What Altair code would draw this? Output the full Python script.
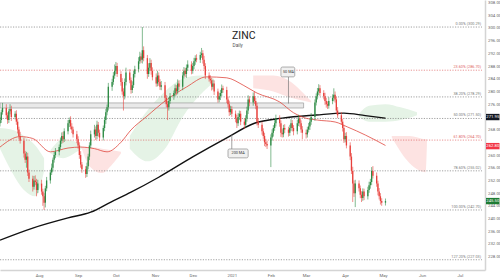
import altair as alt
import pandas as pd

# ---------------- data ----------------
first_open = 270.0
c_jul = [271.0, 273.5, 274.8, 272.5, 271.0, 273.8, 274.5, 272.0, 273.0, 270.5, 268.0, 266.0, 264.5, 260.5, 258.5, 259.5, 254.5, 252.5, 250.0, 252.0, 251.5, 249.0, 251.0]
u_jul = [1.0, 0.8, 1.6, 1.2, 0.9, 0.7, 1.5, 1.0, 0.8, 1.1, 1.0, 0.9, 1.3, 1.0, 0.8, 1.5, 1.2, 0.9, 1.0, 1.4, 1.6, 1.0, 1.2]
l_jul = [1.0, 0.9, 0.8, 1.1, 1.2, 0.9, 1.0, 1.3, 0.8, 1.0, 1.2, 1.0, 0.9, 1.3, 1.0, 2.5, 1.1, 1.0, 1.5, 0.9, 1.0, 2.0, 1.0]
c_aug = [248.5, 247.0, 245.0, 249.5, 252.0, 254.5, 256.0, 258.5, 260.0, 261.0, 262.5, 264.5, 266.0, 265.0, 267.5, 270.0, 271.0, 269.0, 268.0, 266.5, 265.0]
u_aug = [1.2, 0.9, 1.0, 0.8, 1.1, 0.9, 1.3, 0.7, 1.0, 1.2, 0.8, 1.0, 1.1, 1.3, 0.9, 1.0, 0.8, 1.2, 1.0, 0.9, 1.1]
l_aug = [1.0, 3.0, 2.3, 1.5, 0.9, 1.0, 0.8, 1.2, 0.9, 1.0, 1.1, 0.8, 1.0, 1.2, 0.9, 1.0, 1.2, 0.9, 1.1, 1.0, 1.3]
c_sep = [263.0, 260.0, 257.0, 255.5, 254.0, 256.5, 259.5, 263.0, 266.5, 268.0, 266.0, 269.5, 267.0, 265.5, 268.5, 271.0, 273.5, 275.0, 281.5, 283.0, 285.0, 286.5]
u_sep = [0.9, 1.0, 1.2, 0.8, 1.0, 1.1, 0.9, 1.0, 1.2, 1.5, 1.0, 1.3, 0.9, 1.0, 0.8, 1.1, 1.0, 0.9, 1.2, 1.0, 1.1, 2.0]
l_sep = [1.0, 1.2, 1.0, 1.1, 1.2, 0.9, 1.0, 1.1, 0.8, 1.0, 1.3, 1.0, 1.2, 1.1, 0.9, 1.0, 1.2, 1.0, 1.0, 1.3, 0.9, 1.0]
c_oct = [288.0, 285.5, 283.0, 280.0, 278.5, 283.0, 286.0, 283.5, 280.5, 282.0, 285.5, 287.0, 289.5, 291.0, 290.0, 293.0, 290.5, 285.5, 287.5, 289.0, 286.5, 284.5]
u_oct = [1.3, 1.0, 0.9, 1.2, 1.0, 1.1, 1.5, 1.0, 0.9, 1.2, 1.0, 1.1, 1.3, 1.5, 1.0, 7.3, 1.2, 1.0, 1.4, 1.5, 1.0, 1.1]
l_oct = [1.0, 0.9, 1.2, 1.0, 4.5, 1.0, 1.1, 0.9, 1.2, 1.0, 0.9, 1.1, 1.0, 0.8, 1.0, 1.2, 1.0, 1.5, 0.9, 1.0, 1.2, 1.0]
c_nov = [282.5, 285.0, 283.0, 281.5, 282.0, 278.0, 276.0, 275.0, 277.0, 278.5, 279.5, 281.0, 280.0, 282.5, 281.5, 285.0, 286.5, 285.5, 287.5, 288.5, 286.5]
u_nov = [1.2, 1.5, 1.0, 0.9, 1.3, 1.0, 0.9, 1.1, 1.2, 1.0, 0.8, 1.2, 1.0, 1.3, 1.0, 1.1, 1.2, 0.9, 1.0, 1.3, 1.0]
l_nov = [1.0, 0.9, 1.2, 1.0, 1.1, 1.3, 1.0, 4.0, 1.0, 0.9, 1.1, 1.0, 1.2, 0.9, 1.0, 1.1, 0.9, 1.0, 1.2, 1.0, 1.1]
c_dec = [288.0, 289.5, 290.5, 290.0, 291.5, 292.0, 290.0, 288.0, 285.0, 284.0, 283.5, 281.5, 282.5, 280.0, 277.5, 278.5, 279.5, 281.0, 280.5, 277.5, 276.0, 273.5, 274.5]
u_dec = [1.0, 1.1, 0.9, 1.2, 1.0, 1.7, 1.0, 1.2, 0.9, 1.0, 1.1, 0.8, 1.2, 1.0, 0.9, 1.1, 1.0, 1.2, 0.8, 1.0, 0.9, 1.1, 1.0]
l_dec = [0.9, 1.0, 1.1, 0.8, 1.0, 0.9, 1.2, 1.0, 1.1, 0.9, 1.0, 1.2, 0.9, 1.1, 1.0, 0.9, 1.2, 1.0, 0.9, 1.1, 1.0, 1.2, 0.9]
c_jan = [273.0, 271.5, 270.0, 272.0, 273.0, 270.5, 269.5, 271.5, 274.0, 277.5, 276.5, 278.5, 277.0, 275.5, 270.5, 269.5, 267.5, 266.0, 264.0, 263.5, 263.0]
u_jan = [0.9, 1.0, 1.1, 1.2, 1.0, 0.9, 1.1, 1.0, 1.2, 1.3, 1.0, 1.2, 1.5, 1.0, 0.9, 1.1, 1.0, 0.9, 1.0, 1.1, 1.0]
l_jan = [1.0, 1.2, 1.5, 0.9, 1.0, 1.1, 1.3, 0.9, 1.0, 1.1, 1.2, 1.0, 0.9, 1.1, 1.2, 1.0, 1.1, 0.9, 1.2, 1.0, 1.1]
c_feb = [265.5, 267.0, 268.5, 270.0, 271.5, 270.0, 267.0, 266.5, 268.5, 268.0, 267.0, 268.5, 270.0, 268.5, 267.5, 270.0, 271.5, 270.0, 268.0, 267.0]
u_feb = [1.0, 1.1, 0.9, 1.0, 1.2, 1.0, 0.9, 1.1, 1.0, 1.2, 0.9, 1.0, 1.3, 1.0, 0.9, 1.1, 1.2, 1.0, 0.9, 1.1]
l_feb = [6.8, 1.0, 1.2, 0.9, 1.0, 1.1, 1.3, 1.0, 0.9, 1.1, 1.2, 1.0, 0.9, 1.1, 1.3, 1.0, 0.9, 1.1, 1.0, 2.0]
c_mar = [266.5, 268.0, 269.0, 270.5, 272.0, 276.5, 278.5, 280.0, 281.0, 279.5, 278.5, 277.0, 276.0, 275.5, 277.0, 278.0, 279.0, 277.5, 274.0, 272.5, 270.5, 268.5, 265.0]
u_mar = [1.0, 0.9, 1.1, 1.0, 1.2, 1.0, 0.9, 1.1, 1.3, 1.0, 0.9, 1.1, 1.0, 0.9, 1.2, 1.1, 2.0, 1.0, 0.9, 1.1, 1.0, 0.9, 1.0]
l_mar = [1.3, 1.0, 0.9, 1.1, 1.0, 1.2, 0.9, 1.0, 1.1, 0.9, 1.0, 1.2, 1.1, 1.0, 0.9, 1.0, 1.1, 1.0, 1.2, 0.9, 1.0, 1.1, 1.2]
c_apr = [266.0, 263.0, 259.5, 255.0, 251.0, 248.0, 251.0, 249.5, 247.5, 246.5, 248.5, 247.0, 249.0, 250.5, 251.5, 255.0, 253.5, 251.0, 248.5, 247.0, 245.5, 245.0, 245.5]
u_apr = [1.0, 1.2, 1.0, 1.1, 1.3, 1.0, 1.2, 1.0, 0.9, 1.1, 1.0, 0.9, 1.0, 1.1, 1.0, 1.2, 1.5, 1.0, 0.9, 1.1, 1.0, 0.9, 0.8]
l_apr = [1.0, 0.9, 1.1, 1.0, 5.8, 1.2, 4.4, 1.0, 1.1, 1.3, 0.9, 1.2, 1.0, 0.9, 1.1, 1.0, 0.9, 1.0, 1.2, 1.0, 1.1, 1.0, 0.9]

closes = c_jul + c_aug + c_sep + c_oct + c_nov + c_dec + c_jan + c_feb + c_mar + c_apr
upw = u_jul + u_aug + u_sep + u_oct + u_nov + u_dec + u_jan + u_feb + u_mar + u_apr
loww = l_jul + l_aug + l_sep + l_oct + l_nov + l_dec + l_jan + l_feb + l_mar + l_apr
n = min(len(closes), len(upw), len(loww))
dates = pd.bdate_range("2020-07-01", periods=n).strftime("%Y-%m-%d")
opens = [first_open] + closes[:n - 1]
rows = []
for i in range(n):
    o, c = opens[i], closes[i]
    rows.append({"date": dates[i], "open": o, "close": c,
                 "high": max(o, c) + upw[i], "low": min(o, c) - loww[i],
                 "col": "#2e8b45" if c >= o else "#e8413c"})
candles = pd.DataFrame(rows)

ma50_dates = ["2020-07-01", "2020-07-17", "2020-07-27", "2020-08-10", "2020-08-24", "2020-09-03", "2020-09-14", "2020-09-24", "2020-10-05", "2020-10-13", "2020-10-25", "2020-11-10", "2020-11-26", "2020-12-12", "2020-12-28", "2021-01-10", "2021-01-21", "2021-02-08", "2021-02-19", "2021-02-27", "2021-03-10", "2021-03-24", "2021-04-03", "2021-04-17", "2021-05-03"]
ma50_vals = [262.5, 265.8, 265.2, 261.0, 262.2, 262.5, 262.0, 261.0, 264.0, 267.9, 272.0, 277.3, 281.4, 284.6, 284.3, 282.0, 279.5, 276.7, 273.3, 271.8, 271.0, 270.4, 268.8, 266.3, 263.0]
ma200_dates = ["2020-07-01", "2020-07-27", "2020-08-24", "2020-09-11", "2020-09-27", "2020-10-13", "2020-11-04", "2020-12-01", "2020-12-28", "2021-01-19", "2021-02-10", "2021-03-09", "2021-03-31", "2021-04-17", "2021-05-03"]
ma200_vals = [233.2, 237.0, 240.2, 242.0, 245.2, 248.3, 253.0, 259.4, 265.4, 270.0, 271.6, 272.6, 273.2, 272.4, 271.6]

cloud_id = ["g1"] * 5 + ["g2"] * 4 + ["r1"] * 5 + ["g3"] * 6 + ["r2"] * 5 + ["g4"] * 5 + ["r3"] * 4
cloud_date = ["2020-07-01", "2020-07-10", "2020-07-20", "2020-07-29", "2020-08-05",
              "2020-08-10", "2020-08-20", "2020-08-31", "2020-09-04",
              "2020-09-04", "2020-09-10", "2020-09-20", "2020-09-28", "2020-10-05",
              "2020-10-12", "2020-10-26", "2020-11-09", "2020-11-23", "2020-12-07", "2020-12-18",
              "2021-01-18", "2021-02-03", "2021-02-17", "2021-02-28", "2021-03-05",
              "2021-04-12", "2021-04-20", "2021-05-03", "2021-05-15", "2021-05-28",
              "2021-05-08", "2021-05-22", "2021-06-04", "2021-06-05"]
cloud_top = [268.5, 268, 266, 263, 259, 261.5, 265, 264, 262.5, 262.5, 262.5, 262, 261.5, 261,
             266, 274, 280, 284, 285, 284, 285, 285, 283, 279, 277,
             273, 275.5, 276, 275, 273.5, 266, 266, 265, 265]
cloud_bot = [262, 255, 249, 247, 255, 260.5, 259, 261, 262, 262, 256.5, 254.3, 257, 260.5,
             262, 258, 262, 272, 279, 283, 281, 280, 278, 277, 276.5,
             272, 270.5, 270.5, 271, 272.5, 265.5, 257.5, 254.6, 265]
cloud_fill = {"g": "#e5f3e6", "r": "#fde3e2"}

zone_start, zone_end, zone_top, zone_bot = "2020-07-01", "2021-02-27", 276.4, 274.8

fib_pct = ["0.00%", "23.60%", "38.20%", "50.00%", "61.80%", "78.60%", "100.00%", "127.20%"]
fib_val = [300.29, 286.70, 278.29, 271.50, 264.70, 255.02, 242.70, 227.03]
fib_red = [False, True, False, False, True, False, False, False]

tag_text = ["271.95", "262.80", "245.50"]
tag_val = [271.95, 262.80, 245.50]
tag_col = ["#131722", "#f23645", "#1e7b34"]

callout_text = ["50 MA", "200 MA"]
callout_x1 = ["2021-02-09", "2020-12-29"]
callout_x2 = ["2021-02-20", "2021-01-14"]
callout_xc = ["2021-02-15", "2021-01-06"]
callout_top = [287.7, 261.9]
callout_bot = [284.6, 259.1]
callout_yc = [286.15, 260.5]
pointer_x = ["2021-02-15", "2021-01-01"]
pointer_y1 = [284.6, 261.9]
pointer_y2 = [276.2, 266.5]

month_ticks = [(2020, 8), (2020, 9), (2020, 10), (2020, 11), (2020, 12), (2021, 1), (2021, 2),
               (2021, 3), (2021, 4), (2021, 5), (2021, 6), (2021, 7)]
# 272 and 264 sit under the price tags, as in the reference
price_ticks = [228, 232, 236, 240, 244, 248, 252, 256, 260, 268, 276, 280, 284, 288, 292, 296, 300, 304, 308]

# ---------------- chart ----------------
FONT = "Roboto"
xscale = alt.Scale(type="utc", domain=[alt.DateTime(year=2020, month=7, date=1, utc=True),
                                        alt.DateTime(year=2021, month=7, date=21, utc=True)])
yscale = alt.Scale(domain=[223.8, 308.8], zero=False, nice=False)
xaxis = alt.Axis(values=[alt.DateTime(year=y, month=m, date=1, utc=True) for y, m in month_ticks],
                 labelExpr="utcFormat(datum.value, '%m') == '01' ? utcFormat(datum.value, '%Y') : utcFormat(datum.value, '%b')",
                 grid=False, ticks=False, domainColor="#d4d4d4", domainWidth=1.5,
                 labelFontSize=4.3, labelColor="#666666", labelPadding=3, labelFont=FONT,
                 labelOverlap=False, title=None)
yaxis = alt.Axis(orient="right", values=price_ticks, format=".2f", grid=False, ticks=False,
                 domainColor="#d4d4d4", domainWidth=1.5, labelFontSize=4.3, labelColor="#666666",
                 labelPadding=2.5, labelFont=FONT, title=None)


def X(f):
    return alt.X(f, type="temporal", scale=xscale, axis=xaxis)


def Y(f):
    return alt.Y(f, type="quantitative", scale=yscale, axis=yaxis)


clouds = pd.DataFrame({"cid": cloud_id, "date": cloud_date, "top": cloud_top, "bot": cloud_bot})
clouds["fill"] = [cloud_fill[c[0]] for c in cloud_id]
cloud_layer = alt.Chart(clouds).mark_area(opacity=1, interpolate="monotone").encode(
    x=X("date"), y=Y("top"), y2="bot", detail="cid:N", color=alt.Color("fill:N", scale=None))

zone = pd.DataFrame({"a": [zone_start], "b": [zone_end], "t": [zone_top], "u": [zone_bot]})
zone_layer = alt.Chart(zone).mark_rect(fill="#e9e9e9", stroke="#9c9c9c", strokeWidth=0.7).encode(
    x=X("a"), x2="b", y=Y("t"), y2="u")

fib = pd.DataFrame({"v": fib_val,
                    "lab": [f"{p} ({v:.2f})" for p, v in zip(fib_pct, fib_val)],
                    "col": ["#e06666" if r else "#7a7a7a" for r in fib_red]})
fib_rules = alt.Chart(fib).mark_rule(strokeDash=[1.2, 1.4], strokeWidth=0.7).encode(
    y=Y("v"), x=alt.value(0), x2=alt.value(482), color=alt.Color("col:N", scale=None))
fib_text = alt.Chart(fib).mark_text(align="right", baseline="bottom", dy=-1.2, fontSize=3.8, font=FONT).encode(
    y=Y("v"), x=alt.value(481), text="lab:N", color=alt.Color("col:N", scale=None))

ma50 = pd.DataFrame({"date": ma50_dates, "v": ma50_vals})
ma200 = pd.DataFrame({"date": ma200_dates, "v": ma200_vals})
ma50_layer = alt.Chart(ma50).mark_line(color="#e0473f", strokeWidth=0.8, interpolate="monotone").encode(
    x=X("date"), y=Y("v"))
ma200_layer = alt.Chart(ma200).mark_line(color="#111111", strokeWidth=1.4, interpolate="monotone").encode(
    x=X("date"), y=Y("v"))

wicks = alt.Chart(candles).mark_rule(strokeWidth=0.6).encode(
    x=X("date"), y=Y("low"), y2="high", color=alt.Color("col:N", scale=None))
bodies = alt.Chart(candles).mark_rule(strokeWidth=1.3).encode(
    x=X("date"), y=Y("open"), y2="close", color=alt.Color("col:N", scale=None))

call = pd.DataFrame({"t": callout_text, "x1": callout_x1, "x2": callout_x2, "xc": callout_xc,
                     "top": callout_top, "bot": callout_bot, "yc": callout_yc,
                     "px": pointer_x, "py1": pointer_y1, "py2": pointer_y2})
pointer_layer = alt.Chart(call).mark_rule(color="#7a7a7a", strokeWidth=0.7).encode(
    x=X("px"), y=Y("py1"), y2="py2")
box_layer = alt.Chart(call).mark_rect(fill="#f0f0f0", stroke="#7a7a7a", strokeWidth=0.6, cornerRadius=1.5).encode(
    x=X("x1"), x2="x2", y=Y("top"), y2="bot")
box_text = alt.Chart(call).mark_text(fontSize=3.8, color="#333333", font=FONT, baseline="middle").encode(
    x=X("xc"), y=Y("yc"), text="t:N")

tags = pd.DataFrame({"t": tag_text, "v": tag_val, "col": tag_col})
tags["hi"] = tags["v"] + 1.0
tags["lo"] = tags["v"] - 1.0
tag_rect = alt.Chart(tags).mark_rect().encode(
    x=alt.value(486), x2=alt.value(499.5), y=Y("hi"), y2="lo", color=alt.Color("col:N", scale=None))
tag_txt = alt.Chart(tags).mark_text(fontSize=4.2, color="white", font=FONT, baseline="middle").encode(
    x=alt.value(492.8), y=Y("v"), text="t:N")

title_layer = alt.Chart(pd.DataFrame({"t": ["ZINC"]})).mark_text(
    align="left", baseline="alphabetic", fontSize=10.5, color="#222222", font=FONT).encode(
    x=alt.value(232), y=alt.value(38.5), text="t:N")
sub_layer = alt.Chart(pd.DataFrame({"t": ["Daily"]})).mark_text(
    align="left", baseline="alphabetic", fontSize=4.8, color="#555555", font=FONT).encode(
    x=alt.value(232.5), y=alt.value(47), text="t:N")

chart = alt.layer(
    cloud_layer, zone_layer, fib_rules, fib_text, ma200_layer, ma50_layer, wicks, bodies,
    pointer_layer, box_layer, box_text, tag_rect, tag_txt, title_layer, sub_layer
).properties(
    width=485, height=270, autosize="none",
    padding={"left": 0, "top": 0, "right": 15, "bottom": 10},
    background="white"
).configure_view(stroke=None)

chart.save("out.html", embed_options={"renderer": "svg", "actions": False})
